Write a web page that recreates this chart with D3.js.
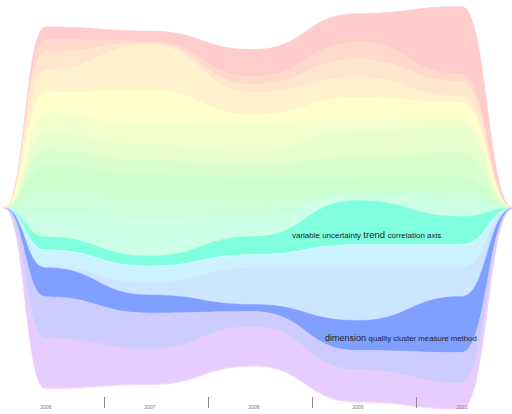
<!DOCTYPE html>
<html>
<head>
<meta charset="utf-8">
<script src="https://cdn.jsdelivr.net/npm/d3@7"></script>
<style>
html,body{margin:0;padding:0;background:#fff;}
svg{display:block;}
</style>
</head>
<body>
<svg id="chart" width="512" height="414"></svg>
<script>
// ---------------- data ----------------
const years = [2006, 2007, 2008, 2009, 2010];
const tickLabels = ["2006", "2007", "2008", "2009", "2010"];

// topic strength per year (2006..2010), top layer first
const topic00 = [13, 10, 27, 29, 68];
const topic01 = [12, 2, 8, 17, 7];
const topic02 = [18, 2, 8, 18, 15];
const topic03 = [23, 45, 22, 20, 6];
const topic04 = [20, 35, 7, 23, 17];
const topic05 = [20, 20, 30, 10, 8];
const topic06 = [17, 16, 13, 27, 25];
const topic07 = [15, 14, 13, 20, 24];
const topic08 = [25, 23, 24, 13, 13];
const topic09 = [22, 22, 16, 5, 13];
const topic10 = [25, 36, 19, 5, 14];
const topic11 = [13, 10, 18, 44, 28];   // highlighted
const topic12 = [1, 1, 1, 1, 1];
const topic13 = [15, 16, 12, 22, 22];
const topic14 = [2, 12, 37, 53, 29];
const topic15 = [29, 18, 7, 30, 56];    // highlighted
const topic16 = [41, 35, 15, 19, 30];
const topic17 = [2, 2, 1, 1, 1];
const topic18 = [48, 34, 38, 31, 25];
const topic19 = [0.6, 0.4, 0.4, 0.4, 0.4];
const topic20 = [0.3, 0.2, 0.2, 0.2, 0.2];
const topic21 = [0.2, 0.1, 0.1, 0.1, 0.1];
const topic22 = [0.1, 0.1, 0.1, 0.1, 0.1];
const topic23 = [0.1, 0.1, 0.1, 0.1, 0.1];

const topicSeries = [topic00, topic01, topic02, topic03, topic04, topic05, topic06, topic07,
  topic08, topic09, topic10, topic11, topic12, topic13, topic14, topic15, topic16, topic17,
  topic18, topic19, topic20, topic21, topic22, topic23];

const highlighted = [11, 15];

const label11Words = ["variable", "uncertainty", "trend", "correlation", "axis"];
const label11Weights = [0.84, 0.84, 1.0, 0.84, 0.84];
const label15Words = ["dimension", "quality", "cluster", "measure", "method"];
const label15Weights = [0.95, 0.82, 0.82, 0.82, 0.82];

// ---------------- layout ----------------
const padStart = 2005.6, padEnd = 2010.5;    // where the stream closes to zero
const tickOffset = 0.5625;                   // separators between year bins

const keys = topicSeries.map((_, i) => "t" + i);
const rows = [];
rows.push(Object.assign({year: padStart}, Object.fromEntries(keys.map(k => [k, 0]))));
years.forEach((yr, j) => {
  const r = {year: yr};
  keys.forEach((k, i) => r[k] = topicSeries[i][j]);
  rows.push(r);
});
rows.push(Object.assign({year: padEnd}, Object.fromEntries(keys.map(k => [k, 0]))));

const x = d3.scaleLinear().domain([2006, 2010]).range([45.5, 461.5]);
const y = d3.scaleLinear().domain([-208, 206]).range([0, 414]);

const stack = d3.stack().keys(keys).order(d3.stackOrderNone).offset(d3.stackOffsetSilhouette);
const layers = stack(rows);

const color = i => d3.hsl(i * 15, 1, highlighted.includes(i) ? 0.75 : 0.9).formatHex();

const area = d3.area()
  .x(d => x(d.data.year))
  .y0(d => y(d[0]))
  .y1(d => y(d[1]))
  .curve(d3.curveBumpX);

const svg = d3.select("#chart");

svg.append("g").selectAll("path")
  .data(layers)
  .join("path")
  .attr("d", area)
  .attr("fill", (d, i) => color(i))
  .attr("stroke", (d, i) => i < 19 ? color(i) : "none")
  .attr("stroke-width", 0.5);

// ---------------- labels ----------------
function drawLabel(layerIndex, words, weights, year, dx, dy, baseSize) {
  const L = layers[layerIndex];
  const j = rows.findIndex(r => r.year === year);
  const mid = (y(L[j][0]) + y(L[j][1])) / 2;
  const t = svg.append("text")
    .attr("x", x(year) + dx)
    .attr("y", mid + dy)
    .attr("font-family", "'Liberation Sans', Arial, sans-serif")
    .attr("fill", "#1e1e1e");
  words.forEach((w, i) => {
    t.append("tspan")
      .attr("font-size", (baseSize * weights[i]).toFixed(2) + "px")
      .text(w + (i < words.length - 1 ? " " : ""));
  });
}
drawLabel(11, label11Words, label11Weights, 2009, -65.5, 15.8, 9.5);
drawLabel(15, label15Words, label15Weights, 2009, -32.5, 5.2, 9.5);

// ---------------- axis ----------------
const sepTicks = years.slice(0, 4).map(yr => yr + tickOffset);
const sepAxis = d3.axisBottom(x).tickValues(sepTicks).tickSize(11).tickFormat("");
const gSep = svg.append("g").attr("transform", "translate(0,397)").call(sepAxis);
gSep.select(".domain").remove();
gSep.selectAll(".tick line").attr("stroke", "#8a8a8a").attr("stroke-width", 1);

const labAxis = d3.axisBottom(x).tickValues(years).tickSize(0).tickPadding(3)
  .tickFormat((d, i) => tickLabels[i]);
const gLab = svg.append("g").attr("transform", "translate(0,402)").call(labAxis);
gLab.select(".domain").remove();
gLab.selectAll(".tick text")
  .attr("font-family", "'Liberation Sans', Arial, sans-serif")
  .attr("font-size", "5px")
  .attr("fill", "#777");
</script>
</body>
</html>
